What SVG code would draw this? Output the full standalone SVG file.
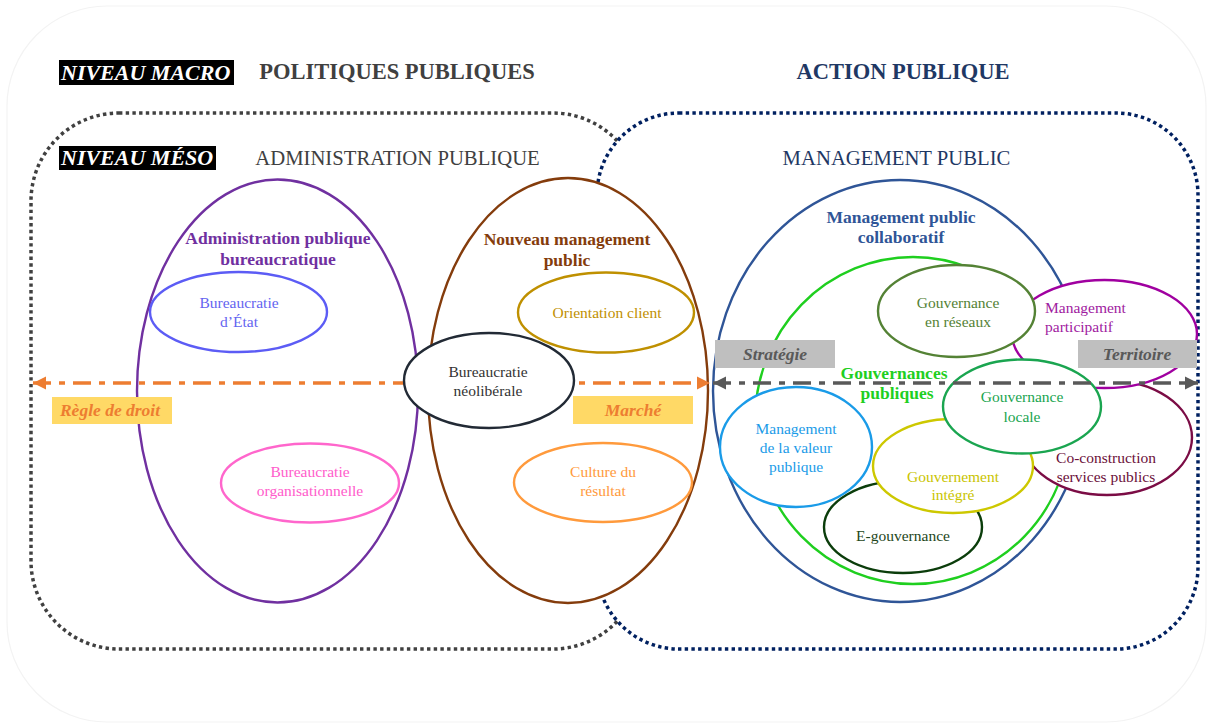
<svg xmlns="http://www.w3.org/2000/svg" width="1209" height="726" viewBox="0 0 1209 726">
<defs>
<style>
.t{font-family:"Liberation Serif","Times New Roman",serif}
.r{font-size:15.5px;text-anchor:middle}
.b{font-size:17.5px;font-weight:bold;text-anchor:middle}
.bi{font-size:17.5px;font-weight:bold;font-style:italic;text-anchor:middle}
.h{font-size:22.5px;font-weight:bold;text-anchor:middle}
.h2{font-size:20.7px;text-anchor:middle}
.tag{font-size:22px;font-weight:bold;font-style:italic;fill:#fff}
.e{fill:#fff;stroke-width:2.4}
.dot{stroke-width:3.5;stroke-dasharray:3.4 3.3}
</style>
<marker id="ao" markerUnits="userSpaceOnUse" markerWidth="14" markerHeight="14" refX="13" refY="7" orient="auto-start-reverse">
<path d="M0,0.5 L13,7 L0,13.5 z" fill="#ed7d31"/>
</marker>
<marker id="ag" markerUnits="userSpaceOnUse" markerWidth="14" markerHeight="14" refX="13" refY="7" orient="auto-start-reverse">
<path d="M0,0.5 L13,7 L0,13.5 z" fill="#595959"/>
</marker>
</defs>
<rect width="1209" height="726" fill="#fff"/>
<rect x="7" y="6" width="1199" height="716" rx="100" fill="none" stroke="#f3f3f3" stroke-width="1.2"/>

<g id="headers" class="t">
<rect x="59" y="60" width="175" height="25" fill="#000"/>
<text class="tag" x="61" y="80">NIVEAU MACRO</text>
<text class="h" x="397" y="79" fill="#404040">POLITIQUES PUBLIQUES</text>
<text class="h" x="903" y="79" fill="#1f3864">ACTION PUBLIQUE</text>
</g>

<g id="frame-administration">
<rect class="dot" x="31" y="113" width="610" height="536" rx="88" fill="none" stroke="#404040"/>
</g>
<g id="frame-management">
<rect class="dot" x="597" y="113" width="601" height="536" rx="82" fill="#fff" stroke="#002060"/>
</g>
<g id="meso-labels" class="t">
<rect x="59" y="146" width="157" height="24" fill="#000"/>
<text class="tag" x="61" y="165">NIVEAU MÉSO</text>
<text class="h2" x="397.5" y="165" fill="#404040">ADMINISTRATION PUBLIQUE</text>
<text class="h2" x="896.5" y="165" fill="#1f3864">MANAGEMENT PUBLIC</text>
</g>

<g id="admin-bureaucratique" class="t">
<ellipse class="e" cx="277.5" cy="391" rx="140.5" ry="211.5" stroke="#7030a0"/>
<text class="b" x="278" y="244" fill="#7030a0">Administration publique</text>
<text class="b" x="278" y="265" fill="#7030a0">bureaucratique</text>
</g>
<g id="nouveau-management" class="t">
<ellipse class="e" cx="568" cy="390.5" rx="140" ry="212.5" stroke="#843c0c"/>
<text class="b" x="567" y="245" fill="#843c0c">Nouveau management</text>
<text class="b" x="567" y="266" fill="#843c0c">public</text>
</g>
<g id="bureaucratie-etat" class="t">
<ellipse class="e" cx="238.5" cy="312" rx="88.5" ry="40" stroke="#5c5cf5"/>
<text class="r" x="239" y="308" fill="#6464f0">Bureaucratie</text>
<text class="r" x="239" y="327" fill="#6464f0">d’État</text>
</g>
<g id="bureaucratie-organisationnelle" class="t">
<ellipse class="e" cx="310" cy="483" rx="89" ry="39.5" stroke="#ff66cc"/>
<text class="r" x="310" y="477" fill="#ff5ccb">Bureaucratie</text>
<text class="r" x="310" y="496" fill="#ff5ccb">organisationnelle</text>
</g>
<g id="orientation-client" class="t">
<ellipse class="e" cx="606" cy="312.5" rx="88" ry="40" stroke="#bf9000"/>
<text class="r" x="607" y="318" fill="#bf9000">Orientation client</text>
</g>
<g id="culture-resultat" class="t">
<ellipse class="e" cx="603" cy="482.5" rx="89" ry="39.5" stroke="#ff9a3c"/>
<text class="r" x="603" y="477" fill="#ff9a3c">Culture du</text>
<text class="r" x="603" y="496" fill="#ff9a3c">résultat</text>
</g>

<g id="management-collaboratif" class="t">
<ellipse class="e" cx="900" cy="391" rx="187" ry="211" stroke="#2f5597"/>
<text class="b" x="901" y="223" fill="#2f5597">Management public</text>
<text class="b" x="901" y="243" fill="#2f5597">collaboratif</text>
</g>
<g id="gouvernances-publiques" class="t">
<ellipse class="e" cx="913" cy="420.5" rx="158" ry="163.5" stroke="#1fcf1f"/>
<text class="b" x="894" y="379" fill="#1fcf1f">Gouvernances</text>
<text class="b" x="897" y="399" fill="#1fcf1f">publiques</text>
</g>
<g id="co-construction" class="t">
<ellipse class="e" cx="1107" cy="437.5" rx="85" ry="57.5" stroke="#7b0c45"/>
<text class="r" x="1106" y="463" fill="#6b0f3a">Co-construction</text>
<text class="r" x="1106" y="482" fill="#6b0f3a">services publics</text>
</g>
<g id="management-participatif" class="t">
<ellipse class="e" cx="1104.5" cy="334" rx="92.5" ry="54" stroke="#a000a0"/>
<text x="1045" y="313" font-size="15.5" fill="#a020a0">Management</text>
<text x="1045" y="332" font-size="15.5" fill="#a020a0">participatif</text>
</g>
<g id="gouvernance-reseaux" class="t">
<ellipse class="e" cx="956.5" cy="311" rx="78.5" ry="46" stroke="#548235"/>
<text class="r" x="958" y="308" fill="#548235">Gouvernance</text>
<text class="r" x="958" y="327" fill="#548235">en réseaux</text>
</g>
<g id="e-gouvernance" class="t">
<ellipse class="e" cx="903" cy="527" rx="79" ry="46" stroke="#0b3d0b"/>
<text class="r" x="903" y="541" fill="#1e4620">E-gouvernance</text>
</g>
<g id="gouvernement-integre" class="t">
<ellipse class="e" cx="953" cy="466" rx="80" ry="47" stroke="#cdc800"/>
<text class="r" x="953" y="482" fill="#c9c400">Gouvernement</text>
<text class="r" x="953" y="500" fill="#c9c400">intégré</text>
</g>
<g id="gouvernance-locale" class="t">
<ellipse class="e" cx="1022" cy="406.5" rx="79" ry="47" stroke="#1aa550"/>
<text class="r" x="1022" y="402" fill="#1aa550">Gouvernance</text>
<text class="r" x="1022" y="422" fill="#1aa550">locale</text>
</g>
<g id="valeur-publique" class="t">
<ellipse class="e" cx="796" cy="447" rx="76" ry="60" stroke="#1a9be8"/>
<text class="r" x="796" y="434" fill="#1a9be8">Management</text>
<text class="r" x="796" y="453" fill="#1a9be8">de la valeur</text>
<text class="r" x="796" y="472" fill="#1a9be8">publique</text>
</g>

<g id="connectors">
<line x1="33" y1="383" x2="710" y2="383" stroke="#ed7d31" stroke-width="3.5" stroke-dasharray="18 8 6 8" marker-start="url(#ao)" marker-end="url(#ao)"/>
<line x1="713" y1="383" x2="1198" y2="383" stroke="#595959" stroke-width="3.5" stroke-dasharray="18 8 6 8" marker-start="url(#ag)" marker-end="url(#ag)"/>
</g>

<g id="bureaucratie-neoliberale" class="t">
<ellipse class="e" cx="489" cy="380.5" rx="85" ry="47.5" stroke="#222a35"/>
<text class="r" x="488" y="377" fill="#333">Bureaucratie</text>
<text class="r" x="488" y="396" fill="#333">néolibérale</text>
</g>

<g id="regle-de-droit" class="t">
<rect x="52" y="397" width="120" height="27" fill="#ffd966"/>
<text class="bi" x="110" y="416" fill="#ed7d31">Règle de droit</text>
</g>
<g id="marche" class="t">
<rect x="573" y="396" width="120" height="28" fill="#ffd966"/>
<text class="bi" x="633" y="416" fill="#ed7d31">Marché</text>
</g>
<g id="strategie" class="t">
<rect x="715" y="340" width="120" height="28" fill="#bfbfbf"/>
<text class="bi" x="775" y="360" fill="#595959">Stratégie</text>
</g>
<g id="territoire" class="t">
<rect x="1078" y="340" width="119" height="28" fill="#bfbfbf"/>
<text class="bi" x="1137" y="360" fill="#595959">Territoire</text>
</g>
</svg>
